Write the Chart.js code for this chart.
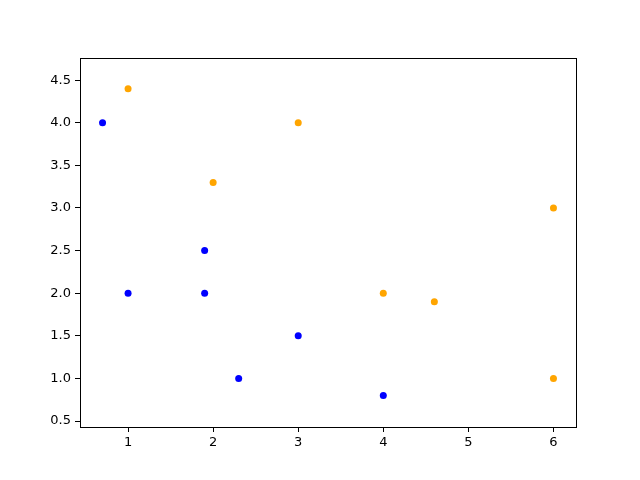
<!DOCTYPE html>
<html>
<head>
<meta charset="utf-8">
<script src="https://cdn.jsdelivr.net/npm/chart.js@4/dist/chart.umd.min.js"></script>
<style>
  html, body { margin: 0; padding: 0; background: #fff; }
  #wrap { width: 640px; height: 480px; }
</style>
</head>
<body>
<div id="wrap"><canvas id="chart" width="640" height="480"></canvas></div>
<script>
// point data
var blueX = [0.7, 1, 1.9, 1.9, 2.3, 3, 4];
var blueY = [4.0, 2.0, 2.5, 2.0, 1.0, 1.5, 0.8];
var orangeX = [1, 2, 3, 4, 4.6, 6, 6];
var orangeY = [4.4, 3.3, 4.0, 2.0, 1.9, 3.0, 1.0];

var xTicks = [1, 2, 3, 4, 5, 6];
var yTicks = [0.5, 1.0, 1.5, 2.0, 2.5, 3.0, 3.5, 4.0, 4.5];

function pts(xs, ys) {
    return xs.map(function(x, i) { return {x: x, y: ys[i]}; });
}

// full black frame round the plot area
var frame = {
    id: 'frame',
    afterDraw: function(chart) {
        var a = chart.chartArea, ctx = chart.ctx;
        ctx.save();
        ctx.strokeStyle = '#000';
        ctx.lineWidth = 1;
        ctx.strokeRect(Math.round(a.left) + 0.5, Math.round(a.top) + 0.5,
            Math.round(a.right - a.left), Math.round(a.bottom - a.top));
        ctx.restore();
    }
};

var tickFont = {family: 'DejaVu Sans', size: 13};

new Chart(document.getElementById('chart'), {
    type: 'scatter',
    data: {
        datasets: [{
            data: pts(blueX, blueY),
            backgroundColor: '#0000ff',
            borderWidth: 0,
            pointRadius: 3.5
        }, {
            data: pts(orangeX, orangeY),
            backgroundColor: '#ffa500',
            borderWidth: 0,
            pointRadius: 3.5
        }]
    },
    options: {
        responsive: false,
        animation: false,
        layout: {padding: {left: 0, top: 58, right: 64, bottom: 0}},
        plugins: {legend: {display: false}, tooltip: {enabled: false}},
        scales: {
            x: {
                type: 'linear',
                min: 0.435, max: 6.265,
                afterBuildTicks: function(s) { s.ticks = xTicks.map(function(v) { return {value: v}; }); },
                afterFit: function(s) { s.height = 53; },
                grid: {display: true, drawOnChartArea: false, drawTicks: true, tickLength: 5, color: '#000'},
                border: {display: true, color: '#000'},
                ticks: {color: '#000', font: tickFont, padding: 3, maxRotation: 0,
                    callback: function(v) { return String(v); }}
            },
            y: {
                type: 'linear',
                min: 0.43, max: 4.76,
                afterBuildTicks: function(s) { s.ticks = yTicks.map(function(v) { return {value: v}; }); },
                afterFit: function(s) { s.width = 80; },
                grid: {display: true, drawOnChartArea: false, drawTicks: true, tickLength: 5, color: '#000'},
                border: {display: true, color: '#000'},
                ticks: {color: '#000', font: tickFont, padding: 4,
                    callback: function(v) { return v.toFixed(1); }}
            }
        }
    },
    plugins: [frame]
});
</script>
</body>
</html>
